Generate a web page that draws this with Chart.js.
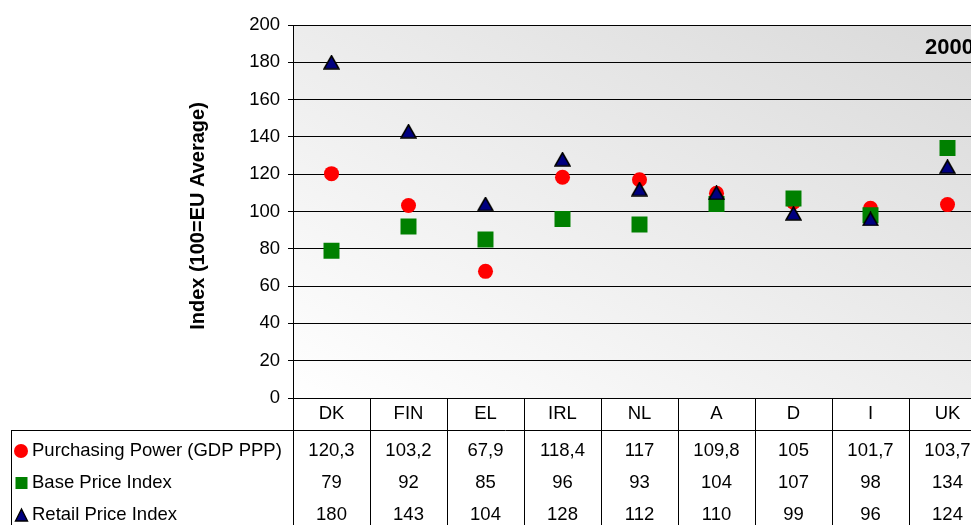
<!DOCTYPE html>
<html>
<head>
<meta charset="utf-8">
<script src="https://cdn.jsdelivr.net/npm/chart.js@4.4.0/dist/chart.umd.min.js"></script>
<style>
  html, body { margin: 0; padding: 0; background: #fff; overflow: hidden; }
  #wrap { width: 1000px; height: 525px; }
</style>
</head>
<body>
<div id="wrap"><canvas id="myChart" width="1000" height="525"></canvas></div>
<script>
const categories = ['DK', 'FIN', 'EL', 'IRL', 'NL', 'A', 'D', 'I', 'UK'];
const purchasingPower = [120.3, 103.2, 67.9, 118.4, 117, 109.8, 105, 101.7, 103.7];
const basePrice = [79, 92, 85, 96, 93, 104, 107, 98, 134];
const retailPrice = [180, 143, 104, 128, 112, 110, 99, 96, 124];
const yTicks = [0, 20, 40, 60, 80, 100, 120, 140, 160, 180, 200];
const seriesNames = ['Purchasing Power (GDP PPP)', 'Base Price Index', 'Retail Price Index'];

const FONT = '"Liberation Sans", Arial, sans-serif';

// triangle marker, centred on its bounding box like the original
function makeTriangle(w, h, fill) {
  const c = document.createElement('canvas');
  c.width = w; c.height = h;
  const g = c.getContext('2d');
  g.beginPath();
  g.moveTo(w / 2, 1);
  g.lineTo(w - 1, h - 1);
  g.lineTo(1, h - 1);
  g.closePath();
  g.fillStyle = fill;
  g.fill();
  g.lineWidth = 1.6;
  g.strokeStyle = '#000';
  g.stroke();
  return c;
}
const triMarker = makeTriangle(17, 15, '#000080');

function drawTri(ctx, cx, cy, w, h) {
  ctx.beginPath();
  ctx.moveTo(cx, cy - h / 2);
  ctx.lineTo(cx + w / 2, cy + h / 2);
  ctx.lineTo(cx - w / 2, cy + h / 2);
  ctx.closePath();
  ctx.fillStyle = '#000080';
  ctx.fill();
  ctx.lineWidth = 1.4;
  ctx.strokeStyle = '#000';
  ctx.stroke();
}

const fmt = v => String(v).replace('.', ',');

// gradient behind the plot
const bgPlugin = {
  id: 'bg',
  beforeDraw(chart) {
    const { ctx, chartArea: a } = chart;
    ctx.save();
    ctx.fillStyle = '#fff';
    ctx.fillRect(0, 0, chart.width, chart.height);
    const W = a.right - a.left, H = a.bottom - a.top;
    const t = 2 * W * H / (W * W + H * H);
    const grad = ctx.createLinearGradient(a.left, a.bottom, a.left + t * H, a.bottom - t * W);
    grad.addColorStop(0, '#ffffff');
    grad.addColorStop(1, '#d9d9d9');
    ctx.fillStyle = grad;
    ctx.fillRect(a.left, a.top, W, H);
    ctx.restore();
  }
};

// data table, axis title and year label
const tablePlugin = {
  id: 'table',
  afterDraw(chart) {
    const { ctx, chartArea: a } = chart;
    const xs = chart.scales.x;
    const n = categories.length;
    const colW = (a.right - a.left) / n;
    const bottom = chart.height;
    const rowY = [451, 483, 515];
    ctx.save();
    ctx.strokeStyle = '#000';
    ctx.lineWidth = 1;
    ctx.beginPath();
    for (let i = 0; i <= n; i++) {
      const x = Math.round(a.left + i * colW) + 0.5;
      ctx.moveTo(x, a.bottom);
      ctx.lineTo(x, bottom);
    }
    ctx.moveTo(11, 430.5);
    ctx.lineTo(chart.width, 430.5);
    ctx.moveTo(11.5, 430);
    ctx.lineTo(11.5, bottom);
    ctx.stroke();

    ctx.fillStyle = '#000';
    ctx.font = '18.5px ' + FONT;
    ctx.textAlign = 'center';
    ctx.textBaseline = 'middle';
    categories.forEach((c, i) => {
      const x = xs.getPixelForValue(i);
      ctx.fillText(c, x, 414);
      ctx.fillText(fmt(purchasingPower[i]), x, rowY[0]);
      ctx.fillText(fmt(basePrice[i]), x, rowY[1]);
      ctx.fillText(fmt(retailPrice[i]), x, rowY[2]);
    });

    ctx.textAlign = 'left';
    seriesNames.forEach((s, i) => ctx.fillText(s, 32, rowY[i]));

    // legend keys
    ctx.fillStyle = '#ff0000';
    ctx.beginPath();
    ctx.arc(21, rowY[0], 7, 0, Math.PI * 2);
    ctx.fill();
    ctx.fillStyle = '#008000';
    ctx.fillRect(15.5, rowY[1] - 6, 12, 12);
    drawTri(ctx, 21.5, rowY[2], 12, 12);

    // y title
    ctx.fillStyle = '#000';
    ctx.font = 'bold 20px ' + FONT;
    ctx.translate(198, 216);
    ctx.rotate(-Math.PI / 2);
    ctx.textAlign = 'center';
    ctx.fillText('Index (100=EU Average)', 0, 0);
    ctx.setTransform(1, 0, 0, 1, 0, 0);

    ctx.font = 'bold 22px ' + FONT;
    ctx.textAlign = 'left';
    ctx.fillText('2000', 925, 48);
    ctx.restore();
  }
};

const ctx = document.getElementById('myChart').getContext('2d');
const myChart = new Chart(ctx, {
  type: 'line',
  data: {
    labels: categories,
    datasets: [
      {
        label: seriesNames[0],
        data: purchasingPower,
        showLine: false,
        pointStyle: 'circle',
        pointRadius: 7.5,
        pointHoverRadius: 7.5,
        backgroundColor: '#ff0000',
        borderColor: '#ff0000',
        pointBorderWidth: 0,
        order: 2
      },
      {
        label: seriesNames[1],
        data: basePrice,
        showLine: false,
        pointStyle: 'rect',
        pointRadius: 11.3,
        pointHoverRadius: 11.3,
        backgroundColor: '#008000',
        borderColor: '#008000',
        pointBorderWidth: 0,
        order: 1
      },
      {
        label: seriesNames[2],
        data: retailPrice,
        showLine: false,
        pointStyle: triMarker,
        pointRadius: 8,
        backgroundColor: '#000080',
        borderColor: '#000',
        order: 0
      }
    ]
  },
  options: {
    responsive: false,
    animation: false,
    events: [],
    layout: { padding: { top: 25, right: 14, bottom: 127, left: 0 } },
    plugins: {
      legend: { display: false },
      tooltip: { enabled: false }
    },
    scales: {
      x: {
        type: 'category',
        offset: true,
        display: false
      },
      y: {
        min: 0,
        max: 200,
        afterFit: s => { s.width = 293; },
        afterBuildTicks: s => { s.ticks = yTicks.map(v => ({ value: v })); },
        ticks: {
          color: '#000',
          padding: 8,
          font: { family: FONT, size: 18.5 }
        },
        grid: { color: '#000', lineWidth: 1, tickLength: 5, drawTicks: true },
        border: { color: '#000', width: 1 }
      }
    }
  },
  plugins: [bgPlugin, tablePlugin]
});
</script>
</body>
</html>
